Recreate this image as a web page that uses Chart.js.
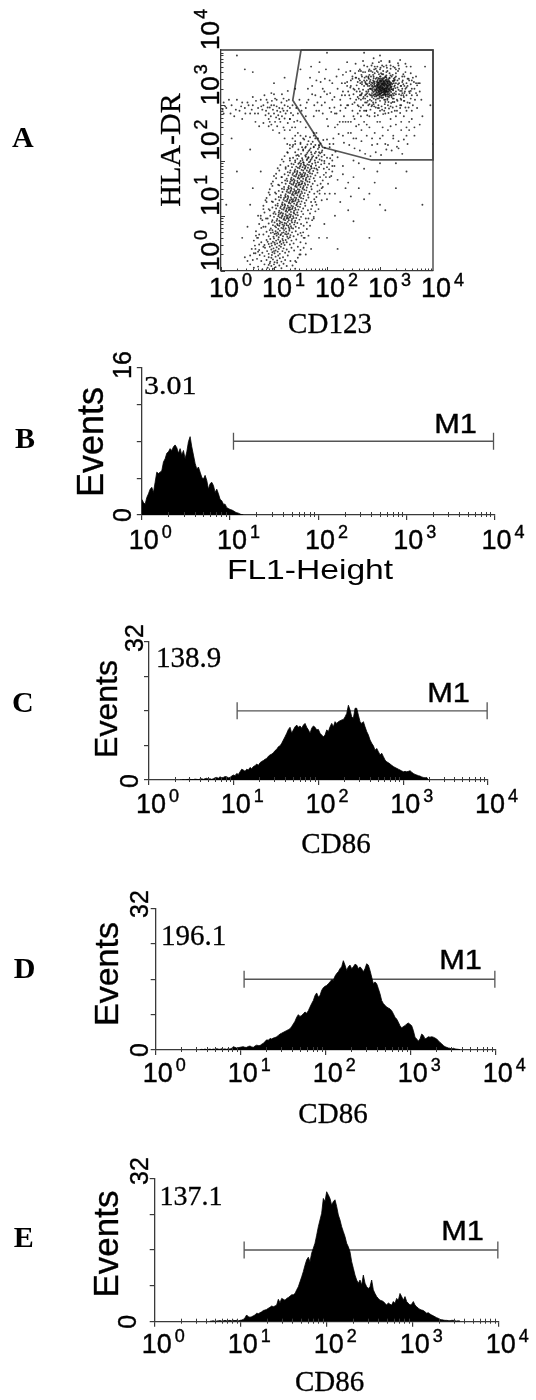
<!DOCTYPE html>
<html><head><meta charset="utf-8">
<script src="https://cdn.jsdelivr.net/npm/chart.js@4.4.0/dist/chart.umd.min.js"></script>
<style>
html,body{margin:0;padding:0;background:#fff;}
body{width:536px;height:1400px;position:relative;overflow:hidden;}
canvas{position:absolute;left:0;}
</style></head><body>
<canvas id="cA" width="536" height="345" style="top:0px"></canvas>
<canvas id="cB" width="536" height="255" style="top:345px"></canvas>
<canvas id="cC" width="536" height="270" style="top:600px"></canvas>
<canvas id="cD" width="536" height="265" style="top:870px"></canvas>
<canvas id="cE" width="536" height="265" style="top:1135px"></canvas>
<script>
// ---------------- DATA ----------------
const decadeExp = ['0','1','2','3','4'];          // tick labels: 10^n
const panelLetters = ['A','B','C','D','E'];
const mfiLabels = ['3.01','138.9','196.1','137.1'];
const yMaxB = 16, yMaxCDE = 32;

// Panel A dot plot: [CD123, HLA-DR] in log10 units x100
const dotsCore = [[306,328],[298,332],[312,325],[290,340],[320,318],[301,345],[285,322],[315,335],[295,312],[325,330],
[308,350],[280,335],[318,342],[300,320],[292,328],[330,325],[310,310],[287,345],[322,352],[303,338],
[296,318],[314,322],[283,330],[326,340],[305,332],[299,348],[317,315],[289,338],[309,326],[321,333],
[294,342],[311,337],[302,314],[286,326],[324,321],[307,344],[297,330],[316,328],[291,319],[328,336],
[304,323],[313,347],[288,333],[319,326],[300,339],[293,324],[327,345],[310,318],[284,341],[318,330],
[306,356],[296,336],[314,312],[289,329],[323,338],[301,327],[309,341],[292,348],[326,318],[299,322],
[315,339],[287,318],[312,331],[304,346],[321,324],[295,334],[330,340],[308,322],[283,337],[317,344],
[302,329],[293,316],[325,327],[311,351],[290,343],[306,319],[319,336],[298,326],[314,343],[286,331],
[322,315],[305,340],[296,322],[333,332],[309,329],[288,349],[316,320],[300,335],[324,344],[292,321],
[310,345],[303,317],[318,349],[297,341],[327,322],[285,328],[313,326],[301,352],[320,341],[294,330],
[335,328],[281,343],[307,336],[299,315],[326,348],[290,335],[315,316],[304,330],[322,329],[296,346],
[340,335],[278,325],[311,320],[300,325],[318,322],[307,348],[289,320],[329,331],[302,343],[314,333],
[305,330],[300,334],[310,327],[297,325],[314,332],[303,340],[308,322],[295,336],[312,338],[301,321],
[306,343],[299,329],[316,325],[293,331],[309,335],[304,318],[318,337],[296,341],[311,324],[302,333],
[307,328],[298,338],[313,330],[294,323],[320,332],[305,346],[300,317],[315,341],[291,334],[309,320],
[303,326],[312,344],[297,319],[317,329],[306,337],[292,327],[310,331],[301,342],[314,319],[299,332],
[288,324],[322,340],[304,313],[295,344],[318,318],[308,339],[290,316],[324,328],[302,348],[311,316],
[297,349],[316,347],[285,334],[327,334],[306,324],[300,328],[313,336],[294,338],[309,343],[303,335],
[305,333],[309,338],[302,326],[313,329],[298,341],[316,335],[307,319],[311,346],[300,330],[318,327],
[304,337],[308,331],[296,327],[314,340],[310,323],[303,344],[319,333],[299,320],[312,334],[306,340],
[301,336],[315,324],[297,333],[309,329],[305,349],[317,338],[293,335],[311,319],[303,331],[321,329],
[307,325],[299,343],[313,342],[296,339],[320,337],[308,335],[302,322],[316,331],[304,327],[310,340],
[294,328],[318,343],[306,331],[312,327],[300,345],[314,336],[298,324],[322,334],[305,338],[309,325],
[301,332],[315,344],[297,337],[311,331],[303,323],[319,339],[307,342],[295,332],[313,325],[308,328]];
const dotsHalo = [[270,345],[345,315],[260,330],[350,340],[275,305],[340,300],[265,355],[355,325],[280,365],[330,365],
[250,320],[360,345],[272,318],[348,360],[258,342],[338,295],[268,300],[352,305],[285,300],[320,298],
[245,335],[365,330],[262,365],[342,352],[255,310],[370,318],[278,352],[335,372],[248,348],[358,358],
[240,325],[372,340],[266,338],[346,308],[253,358],[362,300],[276,370],[328,290],[244,312],[368,352],
[290,370],[312,372],[300,290],[296,295],[282,292],[325,370],[262,290],[350,290],[238,342],[375,325],
[265,320],[270,335],[272,312],[275,345],[278,300],[280,355],[282,318],[284,308],[286,360],[288,302],
[290,358],[292,305],[294,362],[297,300],[300,365],[303,298],[306,362],[309,302],[312,360],[315,300],
[318,358],[321,304],[324,355],[327,306],[330,352],[333,308],[336,348],[339,312],[342,342],[344,318],
[346,335],[347,325],[268,328],[273,340],[276,322],[279,348],[281,310],[283,352],[285,315],[287,355],
[266,342],[269,315],[271,350],[274,325],[277,308],[279,362],[281,330],[284,298],[286,340],[289,365],
[333,345],[336,320],[339,335],[341,326],[343,345],[345,308],[348,330],[350,318],[352,335],[338,300],
[334,362],[331,298],[328,368],[324,296],[320,366],[317,294],[313,368],[310,295],[307,370],[304,292],
[301,368],[298,295],[295,370],[292,296],[289,298],[287,305],[283,362],[280,320],[277,335],[274,352],
[356,322],[358,338],[354,348],[360,330],[262,325],[263,340],[264,310],[260,348],[358,312],[355,345],
[258,300],[262,318],[266,352],[270,372],[274,290],[278,328],[282,346],[286,376],[290,286],[294,318],
[298,356],[302,380],[306,284],[310,306],[314,362],[318,378],[322,288],[326,312],[330,358],[334,376],
[338,286],[342,322],[346,352],[350,370],[354,296],[358,326],[362,350],[366,310],[370,336],[256,336],
[260,362],[264,296],[268,312],[272,360],[276,338],[280,302],[284,372],[288,312],[292,366],[296,282],
[300,352],[304,372],[308,290],[312,354],[316,286],[320,372],[324,306],[328,350],[332,290],[336,366],
[340,310],[344,356],[348,296],[352,348],[356,304],[360,318],[364,342],[368,322],[252,328],[254,350],
[280,340],[284,318],[288,352],[292,310],[296,360],[300,308],[304,356],[308,310],[312,350],[316,306],
[320,354],[324,312],[328,346],[332,310],[336,340],[340,318],[344,338],[276,316],[272,342],[342,330],
[286,336],[290,326],[294,350],[298,312],[302,358],[306,314],[310,352],[314,310],[318,350],[322,318],
[326,344],[330,320],[334,338],[338,326],[282,330],[278,350],[274,320],[346,322],[350,332],[288,342]];
const dotsGate = [[165,310],[172,335],[180,290],[185,360],[190,300],[195,325],[200,275],[205,345],[210,310],[215,260],
[220,330],[225,290],[230,355],[235,270],[240,300],[245,250],[250,280],[255,240],[260,265],[265,235],
[270,270],[275,245],[280,260],[285,228],[290,250],[295,270],[300,240],[305,260],[310,230],[315,255],
[320,275],[325,245],[330,265],[335,235],[340,255],[345,280],[350,245],[355,270],[360,290],[365,260],
[170,370],[178,318],[188,342],[198,365],[208,288],[218,352],[228,318],[238,378],[248,302],[258,285],
[268,380],[288,385],[298,378],[318,380],[338,382],[348,375],[358,370],[368,340],[378,310],[380,280],
[160,295],[175,280],[182,305],[192,285],[202,262],[212,240],[222,248],[232,232],[242,228],[252,222],
[262,218],[272,212],[282,208],[292,215],[302,210],[312,220],[322,218],[332,225],[342,212],[352,230],
[186,378],[196,348],[206,322],[214,296],[224,270],[234,340],[244,362],[254,375],[264,318],[274,290],
[225,310],[230,325],[235,295],[238,335],[242,318],[245,345],[248,290],[250,330],[252,305],[255,350],
[258,315],[260,298],[262,345],[264,280],[266,322],[268,360],[270,290],[272,305],[274,338],[276,282],
[228,340],[232,280],[236,360],[240,270],[244,332],[248,352],[252,275],[256,325],[260,312],[264,362],
[200,320],[205,295],[210,340],[214,315],[218,285],[222,365],[226,300],[230,270],[234,318],[238,300],
[196,305],[192,330],[188,315],[185,290],[180,345],[176,300],[172,320],[168,350],[164,330],[162,305],
[290,280],[300,270],[310,285],[320,262],[330,280],[340,270],[350,260],[360,275],[370,295],[375,340],
[285,240],[295,230],[305,245],[315,228],[325,240],[335,222],[345,238],[355,255],[365,245],[375,265],
[245,270],[255,262],[265,255],[275,265],[280,280],[250,240],[240,250],[230,245],[220,265],[215,285]];
const dotsLeft = [[85,290],[95,300],[100,285],[110,295],[90,275],[105,310],[115,280],[120,300],[80,300],[95,265],
[70,285],[125,290],[100,320],[112,270],[88,305],[130,275],[78,292],[118,312],[104,278],[92,296],
[60,300],[55,285],[45,295],[35,290],[20,300],[10,295],[5,285],[140,260],[135,300],[128,310],
[65,270],[75,310],[50,305],[40,275],[25,280],[145,285],[150,300],[138,270],[98,255],[110,250],
[82,318],[72,262],[118,260],[126,326],[60,315],[30,310],[15,310],[5,305],[100,340],[140,330],
[45,365],[60,360],[150,365],[120,350],
[90,285],[98,292],[105,298],[112,288],[88,296],[96,308],[102,270],[108,282],[116,294],[122,285],
[84,282],[92,270],[100,300],[106,290],[114,305],[120,276],[126,298],[132,286],[76,298],[86,310],
[94,280],[102,312],[110,275],[118,290],[124,308],[130,295],[136,282],[142,295],[70,295],[64,285],
[58,292],[52,300],[46,285],[38,298],[28,292],[18,285],[8,298],[3,292],[40,305],[66,308],
[80,268],[90,262],[106,262],[126,268],[134,260],[144,272],[148,310],[152,290],[115,320],[95,322]];
const dotsBridge = [[120,240],[130,255],[140,230],[150,245],[155,220],[160,260],[165,235],[170,215],[175,250],[145,210],
[135,225],[125,215],[150,270],[160,280],[130,275],[175,225],[180,205],[185,215],[165,205],[155,197],
[140,200],[190,200],[195,210],[170,190],[180,185],
[125,230],[135,240],[145,250],[155,240],[160,225],[170,230],[178,240],[185,228],[190,215],[200,205],
[195,195],[150,230],[140,245],[130,228],[120,255]];
const dotsSparse = [[210,190],[230,175],[250,200],[260,150],[300,195],[270,130],[310,110],[240,160],[330,195],[295,180],
[210,180],[220,165],[235,150],[250,170],[205,140],[225,125],[270,185],[280,140],[240,110],[215,100],
[260,195],[290,160],[300,120],[230,190],[245,135],
[60,150],[70,100],[50,80],[65,40],[45,25],[180,120],[190,150],[175,95],[200,130],[185,60],
[170,40],[160,30],[55,120],[75,180],[40,60],[195,85],[205,170],[215,140],
[20,240],[30,180],[10,120],[55,220],[200,60],[220,40],[250,90],[280,60],[330,150],[380,120],
[350,180],[400,230],[395,300],[385,370],[30,390],[300,390],[270,395],[200,395],[180,250],[205,230]];
const dotsLowerEdge = [[55,12],[62,6],[135,10],[142,16],[50,18],[140,4],
[55,28],[60,20],[145,24],[150,30],[65,32],[140,18],
[58,40],[64,46],[70,35],[145,44],[150,38],[156,42],[62,32],[148,30],
[62,55],[68,60],[72,48],[150,52],[156,60],[160,50],[66,64],[152,64],
[66,72],[72,66],[76,78],[155,70],[162,76],[165,64],[70,60],[158,60],
[72,85],[78,92],[80,80],[162,88],[168,82],[172,92],[75,95],[165,95],
[75,100],[82,106],[85,95],[168,104],[175,98],[178,108],[80,112],[170,112],
[80,118],[86,125],[90,112],[172,118],[178,125],[184,112],[84,128],[176,130],
[86,132],[92,138],[96,126],[180,134],[186,140],[190,128],[90,142],[182,144],
[92,148],[97,154],[102,142],[186,146],[192,152],[196,140],[95,158],[188,158],
[98,162],[104,168],[108,156],[192,164],[198,170],[202,158],[100,172],[194,174],
[104,176],[110,182],[114,170],[198,178],[204,184],[208,172],[107,186],[200,188],
[112,192],[118,198],[122,188],[204,194],[210,200],[214,190],[115,202],[206,204],
[120,208],[126,214],[130,204],[210,210],[216,216],[220,206],
[130,222],[136,228],[205,224],[212,230],[140,235],[200,238]];
const dotsLower = [[70,8],[82,12],[88,6],[92,14],[95,9],[98,4],[100,12],[103,7],[106,15],[110,10],[114,5],[118,13],[78,3],[124,9],[90,11],
[68,22],[76,18],[82,27],[86,20],[90,25],[93,17],[96,29],[98,21],[101,16],[103,26],[106,19],[108,28],[111,23],[114,17],[117,25],[121,20],[126,28],[131,18],[73,29],[95,24],
[72,38],[78,33],[83,42],[87,36],[90,31],[92,44],[95,39],[97,34],[99,41],[101,32],[103,37],[105,43],[107,35],[109,40],[111,31],[113,44],[116,36],[118,41],[121,33],[124,39],[128,35],[133,42],[138,37],[80,44],[100,36],
[76,52],[82,47],[86,56],[90,49],[93,58],[96,46],[98,53],[100,59],[102,48],[104,55],[106,50],[108,57],[110,46],[112,54],[114,49],[116,58],[118,51],[120,47],[122,56],[124,52],[127,59],[130,48],[133,55],[137,50],[142,57],[88,53],[101,51],[111,52],[117,55],[95,50],
[80,66],[86,71],[90,63],[94,69],[97,74],[99,62],[101,67],[103,72],[105,64],[107,70],[109,61],[111,73],[113,66],[115,69],[117,63],[119,74],[121,67],[123,71],[125,62],[127,68],[129,73],[131,65],[134,70],[137,63],[141,72],[145,66],[150,69],[92,74],[104,68],[112,65],[118,70],[124,66],[108,67],[130,61],[98,70],
[84,80],[90,86],[94,77],[98,83],[101,88],[104,79],[106,85],[108,76],[110,82],[112,89],[114,78],[116,84],[118,80],[120,87],[122,77],[124,83],[126,89],[128,79],[130,85],[132,81],[134,88],[136,77],[138,84],[141,80],[144,87],[147,78],[151,85],[156,82],[96,89],[102,81],[111,86],[117,77],[123,86],[127,82],[133,78],[139,88],[107,83],[119,83],[129,76],[115,88],
[88,95],[93,100],[97,92],[100,98],[103,103],[106,94],[108,99],[110,91],[112,104],[114,96],[116,101],[118,93],[120,98],[122,103],[124,95],[126,100],[128,92],[130,97],[132,102],[134,94],[136,99],[138,104],[140,91],[142,96],[145,101],[148,93],[151,98],[155,103],[160,95],[99,104],[105,91],[111,97],[117,104],[121,92],[125,97],[129,103],[133,91],[137,96],[141,102],[115,99],[119,95],[127,95],[131,99],[109,102],[123,100],
[92,110],[97,115],[101,107],[104,113],[107,118],[110,109],[112,114],[114,106],[116,119],[118,111],[120,116],[122,108],[124,113],[126,118],[128,110],[130,115],[132,107],[134,112],[136,117],[138,109],[140,114],[142,119],[144,106],[146,111],[149,116],[152,108],[155,113],[159,118],[164,110],[103,119],[109,106],[115,112],[121,119],[125,107],[129,112],[133,118],[137,106],[141,111],[145,117],[119,114],[123,110],[131,111],[135,114],[113,117],[127,115],
[98,125],[103,130],[107,122],[110,128],[113,133],[116,124],[118,129],[120,121],[122,134],[124,126],[126,131],[128,123],[130,128],[132,133],[134,125],[136,130],[138,122],[140,127],[142,132],[144,124],[146,129],[148,134],[150,121],[152,126],[155,131],[158,123],[161,128],[165,133],[170,125],[109,134],[115,121],[121,127],[127,134],[131,122],[135,127],[139,133],[143,121],[147,126],[151,132],[125,129],[129,125],[137,126],[141,129],[119,132],[133,130],
[104,140],[109,145],[113,137],[116,143],[119,148],[122,139],[124,144],[126,136],[128,149],[130,141],[132,146],[134,138],[136,143],[138,148],[140,140],[142,145],[144,137],[146,142],[148,147],[150,139],[152,144],[154,149],[156,136],[158,141],[161,146],[164,138],[167,143],[171,148],[176,140],[115,149],[121,136],[127,142],[133,149],[137,137],[141,142],[145,148],[149,136],[153,141],[157,147],[131,144],[135,140],[143,141],[147,144],[125,147],[139,145],
[110,155],[115,160],[119,152],[122,158],[125,163],[128,154],[130,159],[132,151],[134,164],[136,156],[138,161],[140,153],[142,158],[144,163],[146,155],[148,160],[150,152],[152,157],[154,162],[156,154],[158,159],[160,164],[162,151],[164,156],[167,161],[170,153],[173,158],[177,163],[182,155],[121,164],[127,151],[133,157],[139,164],[143,152],[147,157],[151,163],[155,151],[159,156],[163,162],[137,159],[141,155],[149,156],[153,159],[131,162],[145,160],
[115,170],[120,175],[124,167],[127,173],[130,178],[133,169],[135,174],[137,166],[139,179],[141,171],[143,176],[145,168],[147,173],[149,178],[151,170],[153,175],[155,167],[157,172],[159,177],[161,169],[163,174],[165,179],[167,166],[169,171],[172,176],[175,168],[178,173],[182,178],[187,170],[126,179],[132,166],[138,172],[144,179],[148,167],[152,172],[156,178],[160,166],[164,171],[168,177],[142,174],[146,170],[154,171],[158,174],[136,177],[150,175],
[122,185],[127,190],[131,182],[134,188],[137,193],[140,184],[142,189],[144,181],[146,194],[148,186],[150,191],[152,183],[154,188],[156,193],[158,185],[160,190],[162,182],[164,187],[166,192],[168,184],[170,189],[172,194],[174,181],[176,186],[179,191],[182,183],[185,188],[189,193],[194,185],[133,194],[139,181],[145,187],[151,194],[155,182],[159,187],[163,193],[167,181],[171,186],[149,189],[157,191],
[130,200],[136,205],[140,197],[144,203],[147,208],[150,199],[153,204],[156,196],[159,209],[162,201],[165,206],[168,198],[171,203],[174,208],[177,200],[180,205],[183,197],[186,202],[190,207],[195,199],[142,209],[148,196],[154,201],[160,207],[166,197],[172,206],[178,196],[184,209],[163,203],[169,201],
[140,215],[146,220],[151,212],[155,218],[159,223],[163,214],[167,219],[171,211],[175,224],[179,216],[183,221],[187,213],[191,218],[196,223],[153,224],[161,211],[169,222],[177,213],[185,224],[165,217],
[150,232],[157,238],[163,229],[168,242],[173,234],[178,228],[183,240],[188,231],[193,237],[160,244],[175,245],[185,227]];
// Gate polygon (log10 units)
const gateX = [1.51,1.354,1.92,2.835,4,4,1.51];
const gateY = [4,3.09,2.24,2.01,2.01,4,4];

// Histograms: counts per bin; bins start at a log10 value and advance by a fixed log step
const histBStart = 0.0,   histBStep = 0.0189;
const histB = [1.7,1.36,1.17,1.9,2.3,2.8,3.0,2.45,3.55,4.65,4.5,4.65,4.8,5.75,6.1,6.7,6.85,7.2,7.0,7.4,7.6,7.3,6.7,7.2,6.5,7.0,6.1,6.85,7.95,8.5,7.4,6.5,5.6,5.0,5.2,4.65,4.1,3.9,4.3,3.75,2.8,3.4,3.55,3.2,2.45,2.8,2.3,1.7,1.55,1.17,1.17,0.8,0.7,0.6,0.55,0.45,0.33,0.25,0.2,0.1,0.05,0];
const histCStart = 0.366, histCStep = 0.01967;
const histC = [0,0,0.1,0,0.1,0.15,0.15,0.1,0.1,0.2,0.15,0.1,0.2,0.3,0.15,0.3,0.4,0.2,0.3,0.15,
0.3,0.5,0.6,0.4,0.75,0.5,0.6,0.8,0.75,0.5,0.6,0.9,1.15,1.0,1.5,1.3,1.9,2.5,2.3,2.0,
2.5,2.3,2.9,2.6,3.1,3.3,3.7,3.4,4.0,4.3,4.5,4.8,5.0,5.5,5.8,6.0,6.3,6.8,7.1,7.7,
7.9,8.5,9.25,10.0,10.8,11.7,12.2,10.8,11.6,12.3,12.7,12.2,12.5,12.0,12.7,13.1,12.2,11.6,10.8,12.0,
12.5,12.2,11.6,11.7,10.8,10.4,10.0,10.4,11.6,11.2,12.3,13.1,12.3,13.5,13.1,13.5,13.7,13.9,14.0,14.6,
15.4,17.3,16.2,14.6,14.3,16.6,16.6,15.0,13.5,13.1,13.5,12.3,11.2,10.4,9.25,8.5,7.9,6.9,7.3,6.55,
5.8,6.2,5.4,4.6,4.2,4.0,3.7,3.4,3.1,2.9,2.7,2.5,2.3,2.1,1.9,2.0,1.9,2.0,2.15,1.8,
1.5,1.3,1.15,1.0,0.9,0.7,0.6,0.5,0.6,0];
const histDStart = 0.521, histDStep = 0.01961;
const histD = [0.1,0.15,0.1,0.2,0.1,0.15,0.2,0.1,0.2,0.15,0.3,0.2,0.15,0.3,0.2,0.25,0.15,0.3,0.2,0.4,
0.75,0.6,0.45,0.55,0.6,0.7,0.75,0.6,0.6,0.8,0.9,0.7,0.6,0.9,1.1,1.0,1.0,1.3,1.5,1.9,
2.3,2.2,2.6,2.5,2.7,2.8,3.0,3.3,3.6,3.8,4.0,4.2,4.4,4.6,4.8,5.3,5.9,6.5,7.4,8.0,
7.6,7.8,8.2,8.6,8.3,8.9,9.7,10.5,11.2,12.3,12.9,12.0,12.3,13.5,14.1,14.4,14.6,15.0,15.4,15.9,
15.8,16.7,17.3,17.7,18.4,18.8,20.2,19.2,18.0,18.8,19.2,18.4,18.8,19.4,19.2,18.4,18.8,18.4,17.7,18.4,
19.5,19.2,18.0,16.5,15.0,15.4,15.0,13.9,12.7,11.2,10.5,10.1,9.7,9.5,9.3,8.9,8.2,7.4,7.0,6.3,
5.5,5.0,5.3,5.5,5.9,6.1,5.8,5.5,4.4,2.9,2.5,2.0,2.5,3.6,3.3,2.5,2.7,3.0,2.9,3.0,
2.9,2.7,2.5,2.1,1.7,1.4,1.0,0.75,0.6,0.45,0.4,0.2,0.4,0.25,0.2,0.15,0.1];
const histEStart = 0.643, histEStep = 0.01938;
const histE = [0.1,0.15,0.2,0.1,0.15,0.2,0.25,0.15,0.2,0.3,0.2,0.25,0.3,0.2,0.3,0.25,0.3,0.2,0.3,0.37,
0.5,0.9,1.5,1.1,1.0,1.1,1.3,1.5,1.9,1.8,2.0,2.2,2.5,2.6,2.75,3.0,3.2,3.5,3.35,3.5,
3.7,5.0,4.25,5.2,5.0,4.8,5.2,5.4,5.7,6.0,6.0,6.3,7.1,7.8,8.9,10.0,11.2,12.6,13.8,14.4,
13.4,15.3,16.4,17.5,19.3,21.2,22.7,24.2,27.5,26.8,29.0,28.3,27.5,26.0,26.8,27.2,25.7,23.8,22.7,21.2,
20.1,19.0,17.5,16.7,15.6,13.4,11.9,10.4,9.3,8.6,9.3,8.2,10.4,8.6,7.8,7.4,7.8,9.3,7.1,6.3,
5.6,5.2,4.8,4.7,4.5,4.1,3.7,4.2,3.9,3.7,4.5,4.1,5.2,4.8,6.3,5.6,4.8,5.6,4.5,4.1,
3.7,3.9,4.5,3.7,3.35,3.0,2.75,2.6,2.5,2.2,1.9,2.0,1.7,1.5,1.3,1.1,0.9,0.75,0.5,0.45,
0.37,0.3,0.3,0.25,0.22,0.3,0.3,0.2,0.15,0.2,0.15];
// M1 marker range (log10)
const m1Range = [1.04, 3.99];

// ---------------- DRAWING ----------------
const SANS = '"Liberation Sans", Arial, Helvetica, sans-serif';
const SERIF = '"Liberation Serif", "Times New Roman", Times, serif';
const AX = '#3a3a3a';

function txt(ctx, s, x, y, font, align, sx, sw) {
  ctx.save(); ctx.translate(x, y); ctx.scale(sx || 1, 1);
  ctx.font = font; ctx.fillStyle = '#000'; ctx.strokeStyle = '#000'; ctx.textAlign = align || 'left';
  ctx.textBaseline = 'alphabetic'; ctx.fillText(s, 0, 0);
  if (sw) { ctx.lineWidth = sw; ctx.strokeText(s, 0, 0); }
  ctx.restore();
}
function rtxt(ctx, s, x, y, font, align, sw) {
  ctx.save(); ctx.translate(x, y); ctx.rotate(-Math.PI / 2);
  ctx.font = font; ctx.fillStyle = '#000'; ctx.strokeStyle = '#000'; ctx.textAlign = align || 'center';
  ctx.textBaseline = 'alphabetic'; ctx.fillText(s, 0, 0);
  if (sw) { ctx.lineWidth = sw; ctx.strokeText(s, 0, 0); }
  ctx.restore();
}
function powX(ctx, exp, cx, base, big, small, raise) {
  ctx.save(); ctx.fillStyle = '#000'; ctx.strokeStyle = '#000'; ctx.lineWidth = 0.4;
  ctx.textBaseline = 'alphabetic'; ctx.textAlign = 'left';
  ctx.font = big; const w = ctx.measureText('10').width;
  ctx.fillText('10', cx - w / 2, base); ctx.strokeText('10', cx - w / 2, base);
  ctx.font = small; ctx.fillText(exp, cx + w / 2 + 3, base - raise); ctx.strokeText(exp, cx + w / 2 + 3, base - raise);
  ctx.restore();
}
function powY(ctx, exp, bx, start, big, small, raise) {
  ctx.save(); ctx.translate(bx, start); ctx.rotate(-Math.PI / 2);
  ctx.fillStyle = '#000'; ctx.strokeStyle = '#000'; ctx.lineWidth = 0.4;
  ctx.textBaseline = 'alphabetic'; ctx.textAlign = 'left';
  ctx.font = big; const w = ctx.measureText('10').width;
  ctx.fillText('10', 0, 0); ctx.strokeText('10', 0, 0);
  ctx.font = small; ctx.fillText(exp, w + 2, -raise); ctx.strokeText(exp, w + 2, -raise);
  ctx.restore();
}
function minorTicksX(ctx, xs, y, up, down) {
  ctx.save(); ctx.strokeStyle = AX; ctx.lineWidth = 1;
  ctx.beginPath();
  for (let n = 0; n < 4; n++) for (let k = 2; k <= 9; k++) {
    const px = Math.round(xs.getPixelForValue(n + Math.log10(k))) + 0.5;
    ctx.moveTo(px, y - up); ctx.lineTo(px, y + down);
  }
  ctx.stroke(); ctx.restore();
}

const noFitX = s => { s.height = 0; };
const noFitY = s => { s.width = 0; };

function baseOptions(band, g, yMax, ticks) {
  return {
    responsive: false, animation: false, devicePixelRatio: 1, events: [],
    layout: { padding: { left: g.x0, right: 536 - g.x4, top: g.top - band[0], bottom: band[1] - g.base } },
    plugins: { legend: { display: false }, tooltip: { enabled: false } },
    scales: {
      x: { type: 'linear', min: 0, max: 4, afterFit: noFitX,
           ticks: { display: false, stepSize: 1 },
           grid: { drawOnChartArea: false, drawTicks: ticks, tickLength: 5, color: AX, lineWidth: 1.2 },
           border: { color: AX, width: 1.3 } },
      y: { type: 'linear', min: 0, max: yMax, afterFit: noFitY,
           ticks: { display: false, stepSize: yMax / 4 },
           grid: { drawOnChartArea: false, drawTicks: ticks, tickLength: 5, color: AX, lineWidth: 1.2 },
           border: { color: AX, width: 1.3 } }
    }
  };
}

// ---- Panel A ----
(function () {
  const band = [0, 345];
  const g = { x0: 221, x4: 433, top: 50, base: 271 };
  const all = [].concat(dotsLower, dotsLowerEdge, dotsLeft, dotsBridge, dotsSparse, dotsGate, dotsHalo, dotsCore);
  const opts = baseOptions(band, g, 4, false);
  new Chart(document.getElementById('cA'), {
    type: 'scatter',
    data: { datasets: [
      { data: all.map(p => ({ x: p[0] / 100, y: p[1] / 100 })), pointRadius: 0.95,
        pointBackgroundColor: 'rgba(15,15,15,0.8)', pointBorderWidth: 0, pointStyle: 'circle' },
      { data: gateX.map((x, i) => ({ x, y: gateY[i] })), showLine: true, borderColor: '#555',
        borderWidth: 1.7, pointRadius: 0, fill: false, clip: 4 }
    ] },
    options: opts,
    plugins: [{ id: 'decoA', afterDraw(chart) {
      const ctx = chart.ctx, xs = chart.scales.x, ys = chart.scales.y, a = chart.chartArea;
      ctx.save(); ctx.strokeStyle = AX; ctx.lineWidth = 1.3;
      ctx.beginPath(); ctx.moveTo(a.left, a.top); ctx.lineTo(a.right, a.top); ctx.lineTo(a.right, a.bottom); ctx.stroke();
      ctx.lineWidth = 1; ctx.beginPath();
      for (let n = 0; n < 4; n++) for (let k = 1; k <= 9; k++) {
        const v = n + Math.log10(k), L = k === 1 ? 4 : 2.5;
        const px = Math.round(xs.getPixelForValue(v)) + 0.5, py = Math.round(ys.getPixelForValue(v)) + 0.5;
        ctx.moveTo(px, a.bottom); ctx.lineTo(px, a.bottom - L);
        ctx.moveTo(a.left, py); ctx.lineTo(a.left + L, py);
      }
      ctx.stroke(); ctx.restore();
      decadeExp.forEach((e, i) => {
        powX(ctx, e, xs.getPixelForValue(i) + 3, 297, '27px ' + SANS, '18px ' + SANS, 11);
        powY(ctx, e, 219, ys.getPixelForValue(i), '26px ' + SANS, '18px ' + SANS, 12);
      });
      txt(ctx, 'CD123', 330, 333, '29px ' + SERIF, 'center', 1, 0.3);
      rtxt(ctx, 'HLA-DR', 180, 150, '30px ' + SERIF, 'center', 0.3);
      txt(ctx, panelLetters[0], 12, 147, 'bold 30px ' + SERIF, 'left');
    } }]
  });
})();

// ---- Histograms ----
function hist(id, band, g, start, step, counts, yMax, d) {
  const opts = baseOptions(band, g, yMax, true);
  new Chart(document.getElementById(id), {
    type: 'line',
    data: { datasets: [
      { data: counts.map((v, i) => ({ x: start + i * step, y: v })), fill: 'origin',
        backgroundColor: '#000', borderColor: '#000', borderWidth: 0.8, pointRadius: 0, tension: 0, order: 0 },
      { data: [{ x: m1Range[0], y: yMax / 2 }, { x: m1Range[1], y: yMax / 2 }], borderColor: '#555', borderWidth: 1.3,
        pointStyle: 'line', rotation: 90, pointRadius: 8.5, pointBorderColor: '#555', pointBorderWidth: 1.3,
        fill: false, order: 1, clip: false }
    ] },
    options: opts,
    plugins: [{ id: 'deco' + id, afterDraw(chart) {
      const ctx = chart.ctx, xs = chart.scales.x, a = chart.chartArea, o = band[0];
      minorTicksX(ctx, xs, a.bottom, 3, 2);
      decadeExp.forEach((e, i) => powX(ctx, e, xs.getPixelForValue(i) + 2, d.tickBase - o, d.tickFont, d.supFont, 11));
      rtxt(ctx, String(yMax), d.yLabX, d.yMaxY - o, '25px ' + SANS, 'center', 0.4);
      rtxt(ctx, '0', d.y0X, a.bottom + d.y0dy, '25px ' + SANS, 'center', 0.4);
      rtxt(ctx, 'Events', d.evX, d.evY - o, d.evFont, 'center', 0.35);
      txt(ctx, d.mfi, d.mfiX, d.mfiY - o, d.mfiFont, 'left', d.mfiSx, 0.3);
      txt(ctx, 'M1', d.m1X, d.m1Y - o, d.m1Font, 'right', 1.1, 0.4);
      txt(ctx, d.title, d.titleX, d.titleY - o, d.titleFont, 'center', d.titleSx, d.titleSw);
      txt(ctx, d.letter, d.letX, d.letY - o, 'bold 30px ' + SERIF, 'left');
    } }]
  });
}

hist('cB', [345, 600], { x0: 141.8, x4: 494.4, top: 367.5, base: 515 }, histBStart, histBStep, histB, yMaxB, {
  tickBase: 549, tickFont: '27px ' + SANS, supFont: '18px ' + SANS,
  yLabX: 130.5, yMaxY: 365, y0X: 130.5, y0dy: 0,
  evX: 103, evY: 442, evFont: '36px ' + SANS,
  mfi: mfiLabels[0], mfiX: 144, mfiY: 394, mfiFont: '26px ' + SERIF, mfiSx: 1.15,
  m1X: 477, m1Y: 433, m1Font: '28px ' + SANS,
  title: 'FL1-Height', titleX: 310, titleY: 579, titleFont: '28px ' + SANS, titleSx: 1.2, titleSw: 0,
  letter: panelLetters[1], letX: 15, letY: 448 });

hist('cC', [600, 870], { x0: 149, x4: 488, top: 641.7, base: 780 }, histCStart, histCStep, histC, yMaxCDE, {
  tickBase: 813, tickFont: '27px ' + SANS, supFont: '18px ' + SANS,
  yLabX: 143, yMaxY: 638, y0X: 138, y0dy: 1,
  evX: 117, evY: 709, evFont: '32px ' + SANS,
  mfi: mfiLabels[1], mfiX: 156, mfiY: 667, mfiFont: '29px ' + SERIF, mfiSx: 1,
  m1X: 470, m1Y: 702, m1Font: '28px ' + SANS,
  title: 'CD86', titleX: 336, titleY: 853, titleFont: '29px ' + SERIF, titleSx: 1, titleSw: 0.3,
  letter: panelLetters[2], letX: 12, letY: 712 });

hist('cD', [870, 1135], { x0: 155.7, x4: 495.7, top: 908.5, base: 1050 }, histDStart, histDStep, histD, yMaxCDE, {
  tickBase: 1082, tickFont: '27px ' + SANS, supFont: '18px ' + SANS,
  yLabX: 147.5, yMaxY: 904, y0X: 148, y0dy: 0,
  evX: 118.4, evY: 974, evFont: '34px ' + SANS,
  mfi: mfiLabels[2], mfiX: 161, mfiY: 945, mfiFont: '29px ' + SERIF, mfiSx: 1,
  m1X: 482, m1Y: 969, m1Font: '28px ' + SANS,
  title: 'CD86', titleX: 333, titleY: 1123, titleFont: '29px ' + SERIF, titleSx: 1, titleSw: 0.3,
  letter: panelLetters[3], letX: 13.7, letY: 978 });

hist('cE', [1135, 1400], { x0: 154.7, x4: 498.7, top: 1178.3, base: 1321.7 }, histEStart, histEStep, histE, yMaxCDE, {
  tickBase: 1353, tickFont: '27px ' + SANS, supFont: '18px ' + SANS,
  yLabX: 147.5, yMaxY: 1171, y0X: 136, y0dy: 0,
  evX: 118.4, evY: 1244, evFont: '35px ' + SANS,
  mfi: mfiLabels[3], mfiX: 159.6, mfiY: 1205, mfiFont: '28px ' + SERIF, mfiSx: 1,
  m1X: 484, m1Y: 1240, m1Font: '28px ' + SANS,
  title: 'CD86', titleX: 329.6, titleY: 1391, titleFont: '29px ' + SERIF, titleSx: 1, titleSw: 0.3,
  letter: panelLetters[4], letX: 13.7, letY: 1247 });
</script>
</body></html>
